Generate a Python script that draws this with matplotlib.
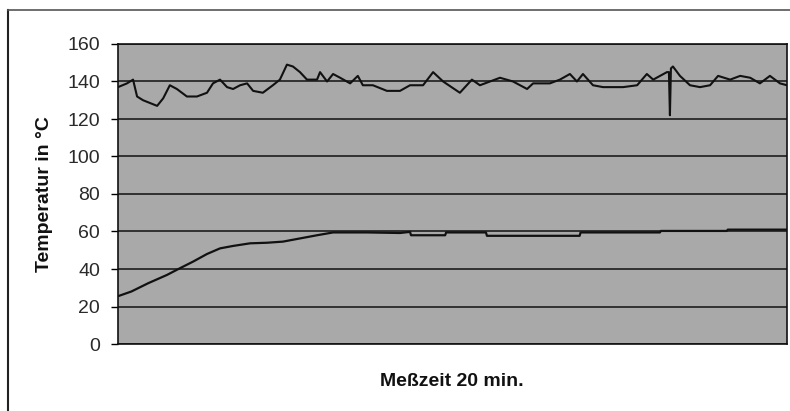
import matplotlib.pyplot as plt
from matplotlib.lines import Line2D

# Messzeit in Minuten / Temperatur in °C (oberer Verlauf)
t_oben = [0, 0.27, 0.45, 0.57, 0.75, 1.17, 1.35, 1.55, 1.76, 2.06, 2.36, 2.66,
          2.84, 3.05, 3.26, 3.44, 3.65, 3.86, 4.04, 4.33, 4.63, 4.84, 5.05, 5.23,
          5.44, 5.65, 5.95, 6.04, 6.25, 6.43, 6.64, 6.94, 7.17, 7.32, 7.62, 8.04,
          8.43, 8.73, 9.12, 9.42, 9.72, 10.22, 10.58, 10.82, 11.42, 11.81, 12.23,
          12.41, 12.91, 13.21, 13.51, 13.72, 13.9, 14.2, 14.5, 15.1, 15.52, 15.81,
          16.0, 16.41, 16.47, 16.5, 16.53, 16.59, 16.8, 17.1, 17.4, 17.7, 17.94,
          18.3, 18.6, 18.9, 19.19, 19.49, 19.79, 20.0]
temp_oben = [137, 139, 141, 132, 130, 127, 131, 138, 136, 132, 132, 134,
             139, 141, 137, 136, 138, 139, 135, 134, 138, 141, 149, 148,
             145, 141, 141, 145, 140, 144, 142, 139, 143, 138, 138, 135,
             135, 138, 138, 145, 140, 134, 141, 138, 142, 140, 136,
             139, 139, 141, 144, 140, 144, 138, 137, 137, 138, 144,
             141, 145, 145, 122, 147, 148, 143, 138, 137, 138, 143,
             141, 143, 142, 139, 143, 139, 138]

# unterer Verlauf
t_unten = [0, 0.4, 0.9, 1.46, 1.85, 2.24, 2.66, 3.05, 3.44, 3.95, 4.45, 4.93,
           5.44, 5.95, 6.43, 7.44, 8.43, 8.73, 8.76, 9.78, 9.81, 11.0, 11.03,
           13.8, 13.83, 16.2, 16.23, 18.2, 18.23, 20.0]
temp_unten = [25.5, 28, 32.4, 36.8, 40.4, 43.9, 48, 51, 52.3, 53.7, 54, 54.6,
              56.3, 58, 59.5, 59.5, 59.2, 59.8, 58, 58, 59.5, 59.5, 57.7,
              57.7, 59.5, 59.5, 60.3, 60.3, 61, 61]

y_ticks = [0, 20, 40, 60, 80, 100, 120, 140, 160]

plt.rcParams['font.family'] = ['Liberation Sans', 'DejaVu Sans']

fig = plt.figure(figsize=(7.9, 4.11), dpi=100, facecolor='w')
ax = fig.add_axes([118 / 790, 67 / 411, 669 / 790, 300 / 411])
ax.set_facecolor('#a9a9a9')

ax.set_xlim(0, 20)
ax.set_ylim(0, 160)
ax.set_yticks(y_ticks)
ax.set_xticks([])
ax.tick_params(axis='y', length=5, width=1, pad=8, labelsize=14,
               labelcolor='#2a2a2a')
ax.yaxis.grid(True, color='#111111', linewidth=1.1)
ax.set_axisbelow(True)
for s in ax.spines.values():
    s.set_color('#111111')
    s.set_linewidth(1.2)

ax.plot(t_oben, temp_oben, color='#111111', linewidth=1.5)
ax.plot(t_unten, temp_unten, color='#111111', linewidth=1.6)

ax.set_ylabel('Temperatur in °C', fontsize=14, fontweight='bold', labelpad=10,
              color='#111111')
fig.text(452 / 790, 1 - 381 / 411, 'Meßzeit 20 min.', fontsize=14,
         fontweight='bold', ha='center', va='center', color='#111111')

# Rahmen des Scans
fig.add_artist(Line2D([8 / 790, 8 / 790], [0, 1 - 10 / 411], color='#222222',
                      linewidth=1.5))
fig.add_artist(Line2D([8 / 790, 1], [1 - 10 / 411, 1 - 10 / 411],
                      color='#555555', linewidth=1.2))

fig.savefig('out.png', dpi=100, facecolor='w')
